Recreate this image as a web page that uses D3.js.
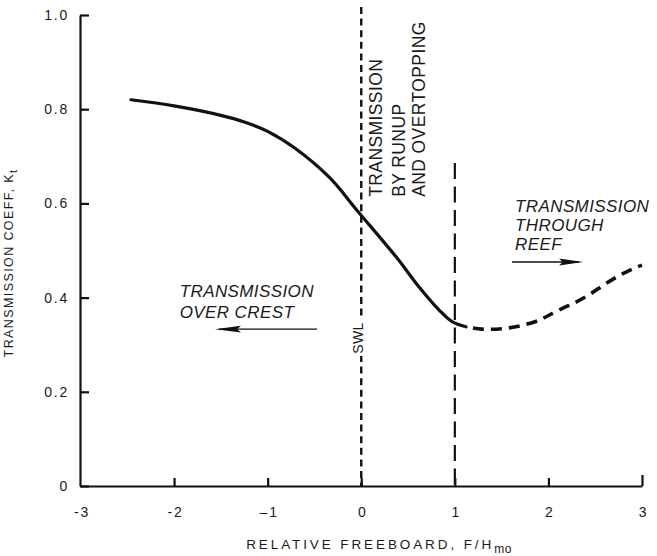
<!DOCTYPE html>
<html>
<head>
<meta charset="utf-8">
<script src="https://cdn.jsdelivr.net/npm/d3@7"></script>
<style>
  html, body { margin: 0; padding: 0; background: #fff; }
  svg { display: block; }
  text { font-family: "Liberation Sans", Arial, Helvetica, sans-serif; fill: #1a1a1a; }
</style>
</head>
<body>
<svg id="chart" width="657" height="556"></svg>
<script>
// ---- data ----
const xTicks = [-3, -2, -1, 0, 1, 2, 3];
const xTickLabels = ["-3", "-2", "\u20131", "0", "1", "2", "3"];
const yTicks = [0, 0.2, 0.4, 0.6, 0.8, 1.0];
const yTickLabels = ["0", "0.2", "0.4", "0.6", "0.8", "1.0"];

// solid part of the Kt curve
const solidX = [-2.46, -2.0, -1.5, -1.25, -1.0, -0.7, -0.34, -0.04, 0.37, 0.62, 0.83, 0.97, 1.12];
const solidY = [0.820, 0.807, 0.787, 0.773, 0.753, 0.716, 0.655, 0.584, 0.487, 0.422, 0.374, 0.349, 0.338];
// dashed part (transmission through reef)
const dashX = [1.12, 1.29, 1.5, 1.7, 1.9, 2.0, 2.15, 2.3, 2.45, 2.6, 2.75, 2.9, 3.0];
const dashY = [0.338, 0.333, 0.334, 0.340, 0.352, 0.362, 0.377, 0.391, 0.408, 0.428, 0.446, 0.461, 0.469];

// vertical reference lines (x value, top y value)
const vLineX = [0, 1];
const vLineTop = [1.017, 0.686];

// ---- layout ----
const svg = d3.select("#chart");
const x = d3.scaleLinear().domain([-3, 3]).range([80.5, 642]);
const y = d3.scaleLinear().domain([0, 1]).range([486, 15]);

// vertical dashed lines
svg.append("line")
  .attr("x1", x(vLineX[0])).attr("x2", x(vLineX[0]))
  .attr("y1", y(vLineTop[0])).attr("y2", y(0))
  .attr("stroke", "#111").attr("stroke-width", 2.4)
  .attr("stroke-dasharray", "7,4.6");
svg.append("line")
  .attr("x1", x(vLineX[1])).attr("x2", x(vLineX[1]))
  .attr("y1", y(vLineTop[1])).attr("y2", y(0))
  .attr("stroke", "#111").attr("stroke-width", 2.2)
  .attr("stroke-dasharray", "16,7.5");

// axes
const yAxis = d3.axisLeft(y).tickValues(yTicks)
  .tickFormat((d, i) => yTickLabels[i])
  .tickSize(-9).tickSizeOuter(0).tickPadding(11);
const gy = svg.append("g").attr("transform", "translate(80,0)").call(yAxis);
const xAxis = d3.axisBottom(x).tickValues(xTicks)
  .tickFormat((d, i) => xTickLabels[i])
  .tickSize(-8).tickSizeOuter(0).tickPadding(21);
const gx = svg.append("g").attr("transform", "translate(0,486)").call(xAxis);

[gx, gy].forEach(g => {
  g.select(".domain").attr("stroke", "#111").attr("stroke-width", 2.2);
  g.selectAll(".tick line").attr("stroke", "#111").attr("stroke-width", 2.2);
  g.selectAll(".tick text")
    .style("font-family", "'Liberation Sans', Arial, sans-serif")
    .style("font-size", "14px").style("letter-spacing", "1.8px").attr("fill", "#1a1a1a");
});
gx.selectAll(".tick text").attr("dx", 1);
gx.selectAll(".tick").filter(d => d === 3).select("line").attr("y2", -11);
gx.selectAll(".tick").filter(d => d === -3).select("line").remove();

// curve
const line = d3.line().x(d => x(d[0])).y(d => y(d[1])).curve(d3.curveBasis);
const lineThrough = d3.line().x(d => x(d[0])).y(d => y(d[1])).curve(d3.curveCatmullRom.alpha(0.5));
svg.append("path")
  .datum(solidX.map((v, i) => [v, solidY[i]]))
  .attr("d", lineThrough).attr("fill", "none")
  .attr("stroke", "#111").attr("stroke-width", 3.2).attr("stroke-linecap", "round");
svg.append("path")
  .datum(dashX.map((v, i) => [v, dashY[i]]))
  .attr("d", lineThrough).attr("fill", "none")
  .attr("stroke", "#111").attr("stroke-width", 3.6)
  .attr("stroke-dasharray", "11,7").attr("stroke-dashoffset", -7);

// SWL label (interrupting the dashed line)
svg.append("rect")
  .attr("x", x(0) - 3).attr("width", 6)
  .attr("y", y(0.354)).attr("height", y(0.276) - y(0.354))
  .attr("fill", "#fff");
svg.append("text")
  .attr("transform", `translate(${x(0) + 1.5},${y(0.281)}) rotate(-90)`)
  .attr("text-anchor", "start")
  .style("font-size", "14px").style("letter-spacing", "0.3px")
  .text("SWL");

// rotated annotation
const runupLines = ["TRANSMISSION", "BY RUNUP", "AND OVERTOPPING"];
const runupX = [0.222, 0.468, 0.682];
runupLines.forEach((t, i) => {
  svg.append("text")
    .attr("transform", `translate(${x(runupX[i])},${y(0.614)}) rotate(-90)`)
    .attr("text-anchor", "start")
    .style("font-size", "17.5px").style("letter-spacing", "0.4px")
    .text(t);
});

// italic annotations
const crestLines = ["TRANSMISSION", "OVER CREST"];
const crestY = [0.401, 0.357];
crestLines.forEach((t, i) => {
  svg.append("text").attr("x", x(-1.94)).attr("y", y(crestY[i]))
    .style("font-size", "17px").style("font-style", "italic").style("letter-spacing", "0.4px")
    .text(t);
});
const reefLines = ["TRANSMISSION", "THROUGH", "REEF"];
const reefY = [0.582, 0.541, 0.501];
reefLines.forEach((t, i) => {
  svg.append("text").attr("x", x(1.643)).attr("y", y(reefY[i]))
    .style("font-size", "17px").style("font-style", "italic").style("letter-spacing", "0.4px")
    .text(t);
});

// arrows
function arrow(x0, x1, yv, head) {
  const px0 = x(x0), px1 = x(x1), py = y(yv);
  const dir = Math.sign(px1 - px0);
  svg.append("line").attr("x1", px0).attr("x2", px1 - dir * 4).attr("y1", py).attr("y2", py)
    .attr("stroke", "#111").attr("stroke-width", 1.4);
  svg.append("path")
    .attr("d", `M${px1},${py} L${px1 - dir * head},${py - 3.4} L${px1 - dir * head * 0.85},${py} L${px1 - dir * head},${py + 3.4} Z`)
    .attr("fill", "#111");
}
arrow(-0.473, -1.563, 0.333, 26);
arrow(1.611, 2.37, 0.4756, 24);

// axis titles
const yt = svg.append("text")
  .attr("transform", "translate(13,263) rotate(-90)")
  .attr("text-anchor", "middle")
  .style("font-size", "12.5px").style("letter-spacing", "1.4px");
yt.append("tspan").text("TRANSMISSION COEFF, K");
yt.append("tspan").attr("dy", 4).style("font-size", "11px").text("t");

const xt = svg.append("text")
  .attr("x", 379).attr("y", 549)
  .attr("text-anchor", "middle")
  .style("font-size", "13.5px").style("letter-spacing", "2.9px");
xt.append("tspan").text("RELATIVE FREEBOARD, F/H");
xt.append("tspan").attr("dy", 4).style("font-size", "12px").style("letter-spacing", "0.5px").text("mo");
</script>
</body>
</html>
